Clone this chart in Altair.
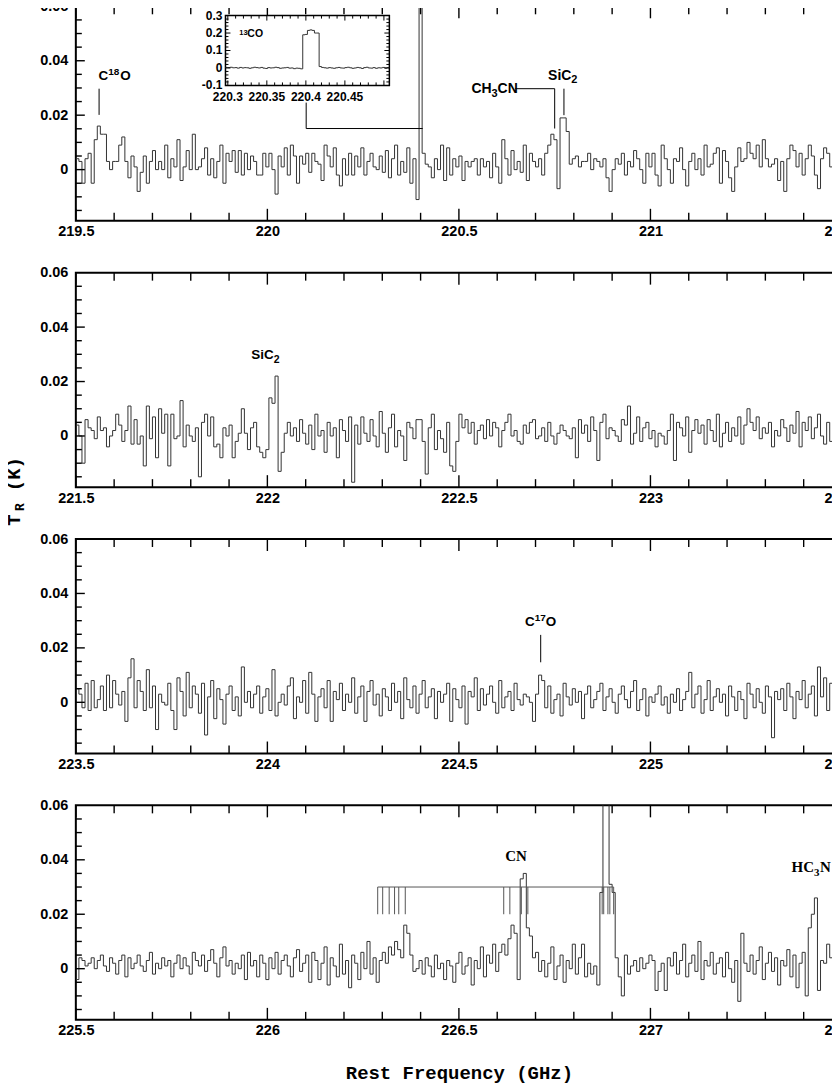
import altair as alt
import pandas as pd

# ---------------- layout constants ----------------
W, H = 768, 215
GAP = 52
SPAN = 2.0
STEP = 0.008
Y_DOMAIN = [-0.0188, 0.06]
SANS = "Liberation Sans"
SERIF = "Liberation Serif"
MONO = "Liberation Mono"
LINE_COLOR = "#333333"

PANEL_STARTS = [219.5, 221.5, 223.5, 225.5]

# ---------------- spectra (mK per channel, channel width 8 MHz) ----------------
P1_MK = [4, 3, -5, 4, 6, -5, 11, 16, 13, 13,
         3, 0, 3, 3, 9, 12, 3, -3, 5, 1,
         -8, -1, 5, -5, 3, 7, 0, 3, 0, 9,
         -3, 4, 1, 11, -4, 1, 7, 0, 13, 0,
         1, 4, 8, -2, 4, -3, 3, 9, -5, 6,
         3, 7, -1, 7, -2, 6, 0, 5, 3, -2,
         -2, 6, 1, 6, 0,
         -9, 5, 1, 8, -2, 9, 5, -5, 5, 2,
         6, -1, 6, 3, 2, -4, 9, 5, 1, 8,
         -2, -6, 4, -2, 6, -2, 5, 1, 8, -2,
         3, 6, 1, 0, 5, -1, 7, -3, 4, 9,
         -2, 3, -1, 8, -5, 4,
         -11, 220, 6,
         2, 1, -3, 4, 0, 9, -4, 8, -2, 4,
         1, 5, -4, 3, 1, 3, 4, -2, 4, 1,
         3, -3, 6, 1, -5, 11, 4, -2, 7, 0,
         3, -1, 9, -4, 6, 3, 1, 4, -2, 6,
         9, 13, 11, -7, 19, 19, 14, 2,
         4, 5, 1, 3, 3, 6, 0, 4, 3, 1,
         4, -3, -8, 0, 4, 2, 6, -2, 3, 1,
         7, 4, 0, -5, 6, 1, 6, -2, -6, 9,
         4, 0, -5, 4, 3, 8, 0, -6, 3, 6,
         0, 4, -2, 9, 1, 2, 6, 8, -5, 7,
         3, -3, -8, 1, 8, 3, 4, 10, 6, 4,
         9, 1, 11, 4, 1, 2, 4, -4, 3, -8,
         4, 9, 7, 1, 6, -2, 4, 9, 5, -2,
         -7, 4, 8, 6, 1, 4, -8, -10]

P2_MK = [4, 0, -10, 6, 3, 2, -1, 7, 2, 3,
         -4, 0, 2, 8, 4, -2, 2, 11, -3, 6,
         -3, 0, -11, 11, -1, 7, -8, 10, 1, 8,
         -11, 8, -1, 0, 13, -4, 4, 0, -2, 3,
         -15, 5, 8, 0, 7, -4, -3, -8, 3, 0,
         4, -8, -2, 1, 10, 1, -5, 3, 5, -4,
         -6, -8, -5, 14, 12, 22, -13, -6, 1, 5,
         0, 3, -2, 6, 1, -3, 4, -5, 8, 0,
         2, -6, 5, 0, 3, -8, 6, 2, -2, 7,
         -17, 4, -3, 7, 1, -2, 6, 0, -4, 9,
         1, -6, 3, 8, -4, 2, 0, -9, 5, 3, -1, 6,
         6, -2, -14, 3, 8, -5, 2, -1, -6, 5,
         -11, -13, -2, 8, 3, 6, 1, 5, -3, 2,
         4, -1, 6, 0, 5, 3, -4, 2, 5, 8,
         0, 2, -2, -3, 4, 1, 5, 6, -1, 0,
         3, -2, 5, 0, -3, 1, 4, 2, 0, -1,
         3, -8, 6, 1, 4, -2, 7, 2, -9, 5,
         8, -1, 3, 2, 0, -2, 6, 4, 11, -3,
         1, 7, -2, 3, 5, -1, 2, -4, 1, 0,
         -3, 2, 8, -9, 5, 3, 0, 7, -6, 2,
         6, 1, 4, -3, 6, 2, -2, 8, -4, 1,
         5, -2, 3, 0, 7, -3, 4, 10, 5, 2,
         7, -1, 3, 1, 5, -4, 2, 0, 6, 3,
         -2, 4, 1, 9, -4, 5, 2, 7, -1, 3,
         8, 0, -3, 5, -2, 3, 1, -4]

P3_MK = [5, 3, -2, 7, -3, 8, -2, 1, 6, -3,
         10, -2, 8, 3, -1, 4, -7, 9, 16, -2,
         8, 4, -3, 12, -2, 6, -10, 3, 0, -1,
         7, -3, -10, 9, 4, -5, 11, -2, 6, 3,
         -4, 7, -12, 2, 8, -6, 5, 1, -8, 3,
         6, -3, 2, -5, 13, 0, 4, -2, 3, 6,
         -4, 2, 5, -3, 12, -5, 0, 3, -1, 6,
         9, -6, 2, 0, 8, -4, 11, 3, -7, 2,
         5, -2, 8, -7, 4, 1, 7, -3, 3, 0,
         9, -4, 2, 6, -7, 4, 8, -1, 3, -5,
         5, 2, -3, 7, 0, 4, -6, 9, 1, -2,
         6, -4, 3, 8, -2, 2, 5, -6, 4, 0,
         3, 7, -7, 5, 1, -2, 6, -8, 4, 2,
         9, -3, 5, -1, 3, 6, 0, -4, 8, -2,
         2, 4, -3, 7, 1, -1, 3, 2, 0, -7,
         3, 10, 8, -2, 6, -4, 1, 3, -5, 7,
         2, -1, 5, 0, 4, -6, 3, 6, -2, 1,
         4, 7, -3, 2, 5, 0, -4, 3, 6, 1,
         -2, 4, 8, -3, 1, 5, -5, 2, 0, 3,
         6, -1, 2, -4, 3, 0, 5, -3, 1, 4,
         11, -2, 3, 6, -4, 1, 8, -3, 2, 5,
         0, 3, -5, 6, 2, -3, 4, 1, -6, 7,
         3, -2, 5, 0, -4, 6, 2, -13, 4, 1,
         5, -3, 7, 2, -6, 4, 1, 8, -2, 3,
         6, -5, 13, 2, 9, -3, 7, 4, -8, -14]

P4_MK = [-4, 4, 3, 1, 2, 4, 0, 3, 5, 1,
         -1, 4, 2, -2, 3, 5, -3, 4, 0, 2,
         5, 1, -1, 3, 6, -2, 2, 0, 4, 1,
         3, -3, 2, 5, 0, 4, 1, -2, 6, 3,
         1, 5, -1, 3, 7, 2, -3, 4, 8, 1,
         3, -2, 2, 0, 5, -4, 6, 1, 3, -3,
         5, 2, -4, 4, 0, 6, -2, 3, 5, 1,
         -3, 4, 7, -1, 2, 5, -5, 6, 3, -4,
         2, 8, -6, 4, 1, -3, 9, -2, 3, -7,
         5, 2, -4, 6, 0, 10, -2, 4, -5, 3,
         6, 2, 8, 5, 10, 7, 4, 16, 13, 5,
         -1, 0, 3, -2, 4, 1, -3, 5, 0, 2,
         -4, 3, 1, -5, 2, 6, -2, 1, 4, -6,
         3, 0, 8, -3, 5, 2, 9, -1, 6, 9,
         5, 11, 16, 13, -4, 33, 35, 15, 12, 4,
         6, -1, 3, -3, 2, 8, -4, 1, 5, -5,
         3, 0, 9, -2, 4, 9, -3, 2, -2, 1,
         -6, 28, 150, 90, 31, 28, 4, -3, -10, 5,
         -2, 1, 3, -1, 4, 0, 2, 5, 3, -8,
         -1, 2, -8, 4, 1, 6, -2, 3, 9, -3,
         2, 5, -1, 10, -4, 3, 1, 6, -2, 2,
         4, -3, 6, 0, -5, 3, -12, 13, 2, -1,
         5, -2, 3, 8, -4, 2, 6, -1, 4, -6,
         3, 1, 7, -3, 5, -7, 2, 6, -10, 15,
         20, 26, -8, 3, 2, 9, 4, -2, -5, 3]

PANEL_MK = [P1_MK, P2_MK, P3_MK, P4_MK]

# ---------------- inset (13CO) ----------------
INSET_START = 220.297
INSET_STEP = 0.003
INSET_XDOM = [220.297, 220.507]
INSET_YDOM = [-0.1, 0.3]
INSET_MK = [3, 2, 4, 1, 2, -1, 3, 0, 2, 1,
            -2, 1, 4, 2, 0, 3, -1, -3, 2, 0,
            1, 4, 2, -2, 0, 1, 3, -1, 0, -4,
            -1, -2, -5, 190, 192, 215, 218, 215, 200, 200,
            8, 3, 1, -1, 2, 0, -2, 1, 3, 0,
            -1, 2, 4, 1, -2, 0, 3, 1, -3, 2,
            4, 0, -1, 2, -2, 1, 0, 3, -1, 2]
INSET_PX = {"x0": 150, "x1": 314.3, "y0": 79.3, "y1": 9.3}
INSET_X_MAJOR = [220.30, 220.35, 220.40, 220.45, 220.50]
INSET_X_MINOR = [220.31, 220.32, 220.33, 220.34, 220.36, 220.37, 220.38, 220.39,
                 220.41, 220.42, 220.43, 220.44, 220.46, 220.47, 220.48, 220.49]
INSET_X_LABELS = [220.30, 220.35, 220.40, 220.45]
INSET_X_TEXT = ["220.3", "220.35", "220.4", "220.45"]
INSET_Y_MAJOR = [0.0, 0.1, 0.2]
INSET_Y_MINOR = [-0.08, -0.06, -0.04, -0.02, 0.02, 0.04, 0.06, 0.08, 0.12, 0.14,
                 0.16, 0.18, 0.22, 0.24, 0.26, 0.28]
INSET_Y_LABELS = [-0.1, 0.0, 0.1, 0.2, 0.3]
INSET_Y_TEXT = ["-0.1", "0", "0.1", "0.2", "0.3"]

# ---------------- main ticks ----------------
X_MAJOR_OFF = [0.0, 0.5, 1.0, 1.5, 2.0]
X_MINOR_OFF = [0.1, 0.2, 0.3, 0.4, 0.6, 0.7, 0.8, 0.9, 1.1, 1.2, 1.3, 1.4, 1.6, 1.7, 1.8, 1.9]
Y_LABELS = [0.0, 0.02, 0.04, 0.06]
Y_MAJOR = [0.0, 0.02, 0.04]
Y_MINOR = [-0.015, -0.01, -0.005, 0.005, 0.01, 0.015, 0.025, 0.03, 0.035, 0.045, 0.05, 0.055]
X_MAJ_LEN, X_MIN_LEN, Y_MAJ_LEN, Y_MIN_LEN = 12, 8, 9, 6

# ---------------- annotations ----------------
# text segments: (panel, font, align, text, freq, value(baseline), size)
LABELS = [
    (0, SANS, "right", "C", 219.5846, 0.03291, 13.5),
    (0, SANS, "left", "18", 219.5846, 0.03473, 10),
    (0, SANS, "left", "O", 219.6159, 0.03291, 13.5),
    (0, SANS, "right", "CH", 220.5852, 0.02804, 14),
    (0, SANS, "left", "3", 220.5852, 0.02680, 11),
    (0, SANS, "left", "CN", 220.6010, 0.02804, 14),
    (0, SANS, "right", "SiC", 220.7935, 0.03291, 14),
    (0, SANS, "left", "2", 220.7935, 0.03192, 11),
    (1, SANS, "right", "SiC", 222.0164, 0.02815, 13.5),
    (1, SANS, "left", "2", 222.0164, 0.02694, 10.5),
    (2, SANS, "right", "C", 224.6979, 0.02794, 13.5),
    (2, SANS, "left", "17", 224.6979, 0.02978, 10),
    (2, SANS, "left", "O", 224.7266, 0.02794, 13.5),
    (3, SERIF, "center", "CN", 226.6492, 0.03971, 15),
    (3, SERIF, "right", "HC", 227.4271, 0.03544, 15),
    (3, SERIF, "left", "3", 227.4271, 0.03397, 11),
    (3, SERIF, "left", "N", 227.4427, 0.03544, 15),
]
# leader / marker lines: (panel, f1, v1, f2, v2)
MARKERS = [
    (0, 219.5607, 0.02011, 219.5607, 0.02973),
    (0, 220.1013, 0.02461, 220.1013, 0.01510),
    (0, 220.1013, 0.01510, 220.4055, 0.01510),
    (0, 220.6470, 0.02973, 220.7500, 0.02973),
    (0, 220.7500, 0.02973, 220.7500, 0.01510),
    (0, 220.7742, 0.02000, 220.7742, 0.02973),
    (2, 224.7135, 0.01471, 224.7135, 0.02478),
]
CN_HFS = [226.288, 226.301, 226.318, 226.332, 226.343, 226.360,
          226.617, 226.633, 226.663, 226.680,
          226.874, 226.878, 226.889, 226.894, 226.904]
CN_BAR_TOP, CN_BAR_BOTTOM = 0.03, 0.02

# y-title segments (text, px, py relative to panel 2, size)
Y_TITLE = [("T", -62, 248, 19), ("R", -56, 235, 13), ("(K)", -62, 202, 19)]
X_TITLE = "Rest Frequency (GHz)"


def step_df(start, step, mk):
    f = [start + i * step for i in range(len(mk))] + [start + len(mk) * step]
    t = [v / 1000 for v in mk] + [mk[-1] / 1000]
    return pd.DataFrame({"f": f, "t": t})


def panel(idx):
    start = PANEL_STARTS[idx]
    xs = alt.Scale(domain=[start, start + SPAN], nice=False, zero=False)
    ys = alt.Scale(domain=Y_DOMAIN, nice=False, zero=False)
    xa = alt.Axis(values=[start + o for o in X_MAJOR_OFF], format="~g", ticks=False, domain=False,
                  grid=False, labelFont=SANS, labelFontSize=14.5, labelFontWeight="bold",
                  labelColor="black", labelPadding=4, labelFlush=False, labelOverlap=False,
                  title=X_TITLE if idx == 3 else None,
                  titleFont=MONO, titleFontSize=19, titleFontWeight="bold", titleColor="black",
                  titleBaseline="middle", titleY=53)
    ya = alt.Axis(values=Y_LABELS, labelExpr="datum.value == 0 ? '0' : format(datum.value, '.2f')",
                  ticks=False, domain=False, grid=False, labelFont=SANS, labelFontSize=14.5,
                  labelFontWeight="bold", labelColor="black", labelPadding=8, labelFlush=False,
                  labelOverlap=False, title=None)

    def X(field):
        return alt.X(field, type="quantitative", scale=xs, axis=xa)

    def Y(field):
        return alt.Y(field, type="quantitative", scale=ys, axis=ya)

    layers = []
    spec = step_df(start, STEP, PANEL_MK[idx])
    layers.append(alt.Chart(spec).mark_line(interpolate="step-after", clip=True, color=LINE_COLOR,
                                            strokeWidth=1).encode(x=X("f"), y=Y("t")))

    xmaj = pd.DataFrame({"f": [start + o for o in X_MAJOR_OFF]})
    xmin = pd.DataFrame({"f": [start + o for o in X_MINOR_OFF]})
    ymaj = pd.DataFrame({"v": Y_MAJOR})
    ymin = pd.DataFrame({"v": Y_MINOR})
    tick = dict(color="black", strokeWidth=1.4)
    for df, ln in ((xmaj, X_MAJ_LEN), (xmin, X_MIN_LEN)):
        layers.append(alt.Chart(df).mark_rule(**tick).encode(x=X("f"), y=alt.value(H), y2=alt.value(H - ln)))
        layers.append(alt.Chart(df).mark_rule(**tick).encode(x=X("f"), y=alt.value(0), y2=alt.value(ln)))
    for df, ln in ((ymaj, Y_MAJ_LEN), (ymin, Y_MIN_LEN)):
        layers.append(alt.Chart(df).mark_rule(**tick).encode(y=Y("v"), x=alt.value(0), x2=alt.value(ln)))
        layers.append(alt.Chart(df).mark_rule(**tick).encode(y=Y("v"), x=alt.value(W), x2=alt.value(W - ln)))

    mk = [m for m in MARKERS if m[0] == idx]
    if mk:
        mdf = pd.DataFrame(mk, columns=["p", "f1", "v1", "f2", "v2"])
        layers.append(alt.Chart(mdf).mark_rule(color="black", strokeWidth=1).encode(
            x=X("f1"), x2="f2", y=Y("v1"), y2="v2"))

    if idx == 3:
        hfs = pd.DataFrame({"f": CN_HFS, "v1": [CN_BAR_BOTTOM] * len(CN_HFS), "v2": [CN_BAR_TOP] * len(CN_HFS)})
        bar = pd.DataFrame({"f1": [min(CN_HFS)], "f2": [max(CN_HFS)], "v": [CN_BAR_TOP]})
        layers.append(alt.Chart(hfs).mark_rule(color="#555555", strokeWidth=1).encode(x=X("f"), y=Y("v1"), y2="v2"))
        layers.append(alt.Chart(bar).mark_rule(color="#555555", strokeWidth=1).encode(x=X("f1"), x2="f2", y=Y("v")))

    for font in (SANS, SERIF):
        for align in ("left", "right", "center"):
            segs = [l for l in LABELS if l[0] == idx and l[1] == font and l[2] == align]
            if segs:
                sdf = pd.DataFrame(segs, columns=["p", "font", "align", "text", "f", "v", "size"])
                layers.append(alt.Chart(sdf).mark_text(font=font, fontWeight="bold", align=align,
                                                       baseline="alphabetic", color="black").encode(
                    x=X("f"), y=Y("v"), text="text:N", size=alt.Size("size:Q", scale=None)))

    if idx == 1:
        for txt, px, py, sz in Y_TITLE:
            layers.append(alt.Chart(pd.DataFrame({"t": [txt]})).mark_text(
                font=MONO, fontSize=sz, fontWeight="bold", angle=270, align="center", baseline="middle",
                color="black").encode(x=alt.value(px), y=alt.value(py), text="t:N"))

    main = alt.layer(*layers)

    if idx != 0:
        return main.properties(width=W, height=H)

    # ---------------- inset ----------------
    ixs = alt.Scale(domain=INSET_XDOM, range=[INSET_PX["x0"], INSET_PX["x1"]], nice=False, zero=False)
    iys = alt.Scale(domain=INSET_YDOM, range=[INSET_PX["y0"], INSET_PX["y1"]], nice=False, zero=False)

    def IX(field):
        return alt.X(field, type="quantitative", scale=ixs, axis=None)

    def IY(field):
        return alt.Y(field, type="quantitative", scale=iys, axis=None)

    il = []
    il.append(alt.Chart(pd.DataFrame({"a": [0]})).mark_rect(fill="white", stroke="black", strokeWidth=1.5).encode(
        x=alt.value(INSET_PX["x0"]), x2=alt.value(INSET_PX["x1"]),
        y=alt.value(INSET_PX["y1"]), y2=alt.value(INSET_PX["y0"])))
    il.append(alt.Chart(step_df(INSET_START, INSET_STEP, INSET_MK)).mark_line(
        interpolate="step-after", clip=False, color=LINE_COLOR, strokeWidth=1).encode(
        x=IX("f"), y=IY("t")))
    itick = dict(color="black", strokeWidth=1)
    for vals, ln in ((INSET_X_MAJOR, 5), (INSET_X_MINOR, 3)):
        d = pd.DataFrame({"f": vals})
        il.append(alt.Chart(d).mark_rule(**itick).encode(x=IX("f"), y=alt.value(INSET_PX["y0"]),
                                                          y2=alt.value(INSET_PX["y0"] - ln)))
        il.append(alt.Chart(d).mark_rule(**itick).encode(x=IX("f"), y=alt.value(INSET_PX["y1"]),
                                                          y2=alt.value(INSET_PX["y1"] + ln)))
    for vals, ln in ((INSET_Y_MAJOR, 5), (INSET_Y_MINOR, 3)):
        d = pd.DataFrame({"v": vals})
        il.append(alt.Chart(d).mark_rule(**itick).encode(y=IY("v"), x=alt.value(INSET_PX["x0"]),
                                                          x2=alt.value(INSET_PX["x0"] + ln)))
        il.append(alt.Chart(d).mark_rule(**itick).encode(y=IY("v"), x=alt.value(INSET_PX["x1"]),
                                                          x2=alt.value(INSET_PX["x1"] - ln)))
    ylab = pd.DataFrame({"v": INSET_Y_LABELS, "s": INSET_Y_TEXT})
    il.append(alt.Chart(ylab).mark_text(font=SANS, fontWeight="bold", fontSize=12, align="right",
                                        baseline="middle", color="black").encode(
        y=IY("v"), x=alt.value(INSET_PX["x0"] - 3), text="s:N"))
    xlab = pd.DataFrame({"f": INSET_X_LABELS, "s": INSET_X_TEXT})
    il.append(alt.Chart(xlab).mark_text(font=SANS, fontWeight="bold", fontSize=12, align="center",
                                        baseline="top", color="black").encode(
        x=IX("f"), y=alt.value(INSET_PX["y0"] + 7), text="s:N"))
    iname = pd.DataFrame({"text": ["13", "CO"], "f": [220.3148, 220.3250], "v": [0.1914, 0.1777],
                          "size": [7.5, 10.5]})
    il.append(alt.Chart(iname).mark_text(font=SANS, fontWeight="bold", align="left", baseline="alphabetic",
                                         color="black").encode(
        x=IX("f"), y=IY("v"), text="text:N", size=alt.Size("size:Q", scale=None)))
    inset = alt.layer(*il)

    return alt.layer(main, inset).resolve_scale(x="independent", y="independent").properties(width=W, height=H)


chart = alt.vconcat(*[panel(i) for i in range(4)], spacing=GAP, bounds="flush").properties(
    padding={"left": -4, "top": -12, "right": -30, "bottom": -2},
    background="white",
).configure_view(stroke="black", strokeWidth=2)

chart.save("out.html", embed_options={"renderer": "svg", "actions": False})
